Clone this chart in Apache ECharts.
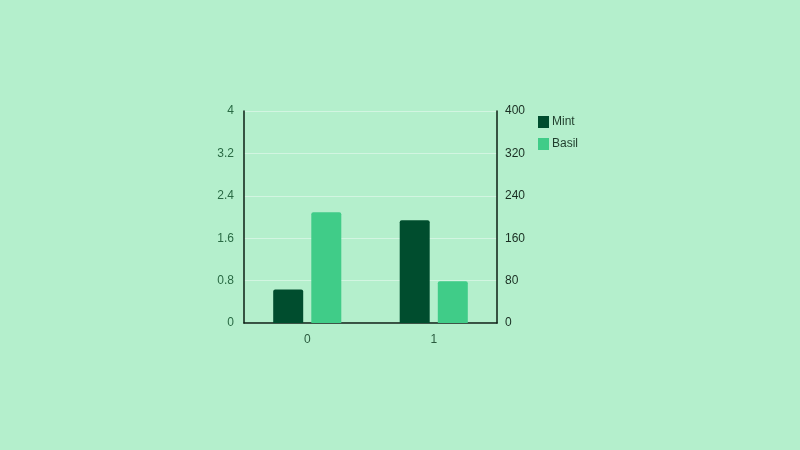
<!DOCTYPE html>
<html>
<head>
<meta charset="utf-8">
<script src="https://cdn.jsdelivr.net/npm/echarts@6/dist/echarts.min.js"></script>
<style>
html,body{margin:0;padding:0;background:#b4efcc;}
#c{width:800px;height:450px;}
</style>
</head>
<body>
<div id="c"></div>
<script>
var categories = ['0', '1'];
var mintValues = [0.63, 1.94];
var basilValues = [209, 79];
var leftTicks = [0, 0.8, 1.6, 2.4, 3.2, 4];
var rightTicks = [0, 80, 160, 240, 320, 400];

var chart = echarts.init(document.getElementById('c'));
chart.setOption({
  backgroundColor: '#b4efcc',
  textStyle: {fontFamily: 'Liberation Sans, Arial, sans-serif'},
  grid: {left: 244, right: 303, top: 111, bottom: 127},
  legend: {
    orient: 'vertical', left: 538, top: 116, padding: 0,
    itemWidth: 11, itemHeight: 12, itemGap: 10,
    icon: 'rect',
    textStyle: {color: '#1f3d2c', fontSize: 12, padding: [2, 0, 0, -2]},
    data: ['Mint', 'Basil']
  },
  xAxis: {
    type: 'category', data: categories,
    axisLine: {lineStyle: {color: '#0d1f15', width: 1.5}},
    axisTick: {alignWithLabel: true, length: 6, lineStyle: {color: '#4a6a58'}},
    axisLabel: {color: '#2a5a3e', fontSize: 12, margin: 11}
  },
  yAxis: [{
    type: 'value', min: 0, max: 4, interval: 0.8,
    axisLine: {show: true, lineStyle: {color: '#0d1f15', width: 1.5}},
    axisTick: {show: false},
    axisLabel: {color: '#2a6a44', fontSize: 12, margin: 10, verticalAlign: 'middle', padding: [5, 0, 0, 0]},
    splitLine: {lineStyle: {color: '#d2f5e1', width: 1}}
  }, {
    type: 'value', min: 0, max: 400, interval: 80,
    axisLine: {show: true, lineStyle: {color: '#0d1f15', width: 1.5}},
    axisTick: {show: false},
    axisLabel: {color: '#1a2e22', fontSize: 12, margin: 8, verticalAlign: 'middle', padding: [5, 0, 0, 0]},
    splitLine: {show: false}
  }],
  series: [{
    name: 'Mint', type: 'bar', yAxisIndex: 0, data: mintValues,
    barWidth: 30, barGap: '27%',
    itemStyle: {color: '#004d2e', borderRadius: [2, 2, 0, 0]}
  }, {
    name: 'Basil', type: 'bar', yAxisIndex: 1, data: basilValues,
    barWidth: 30, barGap: '27%',
    itemStyle: {color: '#40cc88', borderRadius: [2, 2, 0, 0]}
  }]
});
</script>
</body>
</html>
